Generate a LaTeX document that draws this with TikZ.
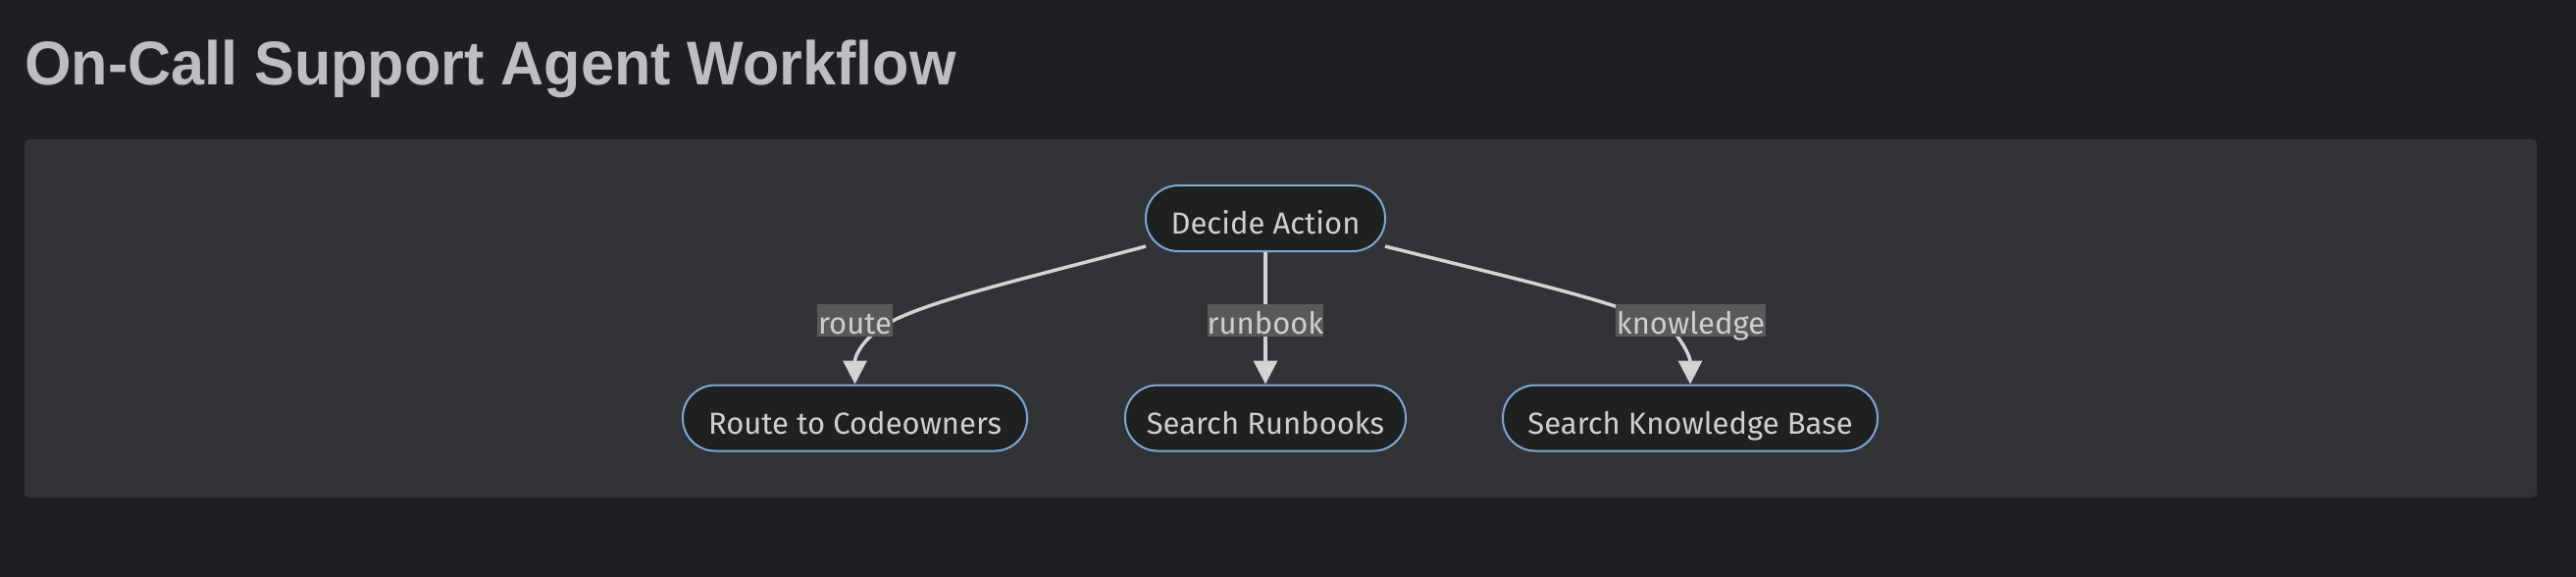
\documentclass[tikz,border=0pt]{standalone}
\usepackage{fontspec}
\usepackage{tikz}
\setmainfont{Fira Sans}
\newfontfamily\titlefont{Liberation Sans}
\usetikzlibrary{arrows.meta}
\usetikzlibrary{positioning}
\definecolor{pagebg}{HTML}{1E1F23}
\definecolor{panelbg}{HTML}{323337}
\definecolor{nodebg}{HTML}{1F2020}
\definecolor{nodeline}{HTML}{7FA6D6}
\definecolor{lblbg}{HTML}{595959}
\definecolor{flowline}{HTML}{D3D3D3}
\definecolor{txt}{HTML}{CFCFCF}
\definecolor{titletxt}{HTML}{BDBEC3}
\tikzset{actbox/.style = {draw = nodeline, line width = 2, fill = nodebg, text = txt,
    rounded corners = 33, minimum height = 67, inner sep = 0,
    text height = 32, text depth = 0,
    font = \fontsize{31}{38}\selectfont},
  edgelbl/.style = {fill = lblbg, text = txt, inner xsep = 0, inner ysep = 0,
    text height = 27, text depth = 0,
    minimum height = 33, font = \fontsize{31}{38}\selectfont},
  flow/.style = {draw = flowline, line width = 3.5,
    -{Triangle[width = 24, length = 24]}}}

\begin{document}
\begin{tikzpicture}[x = 1pt, y = -1pt]
    \fill[pagebg] (0, 0) rectangle (2626, 588);
    \useasboundingbox (0, 0) rectangle (2626, 588);
    \fill[panelbg, rounded corners = 4] (25, 142) rectangle (2586, 507);

    \node[anchor = base west, inner sep = 0, text = titletxt]
      (title) at (25, 87) {\titlefont\bfseries\fontsize{63}{70}\selectfont\scalebox{0.97}[1]{On-Call Support Agent Workflow}};

    \node[actbox, minimum width = 244] (decide) at (1290, 222.5) {Decide Action};
    \node[actbox, minimum width = 351] (route) at (871.5, 426) {Route to Codeowners};
    \node[actbox, minimum width = 286] (runbooks) at (1290, 426) {Search Runbooks};
    \node[actbox, minimum width = 382] (kbase) at (1723, 426) {Search Knowledge Base};

    \coordinate (decideL) at (1168, 251);
    \coordinate (decideR) at (1412, 251);

    \draw[flow] (decideL) .. controls (1030, 288) and (930, 310) .. (895, 336)
      .. controls (875, 352) and (871.5, 365) .. (route.north);
    \draw[flow] (decide.south) -- (runbooks.north);
    \draw[flow] (decideR) .. controls (1560, 288) and (1670, 312) .. (1706, 338)
      .. controls (1718, 352) and (1723, 365) .. (kbase.north);

    \node[edgelbl, minimum width = 77] (routelbl) at (871.5, 326.5) {route};
    \node[edgelbl, minimum width = 116] (runbooklbl) at (1290, 326.5) {runbook};
    \node[edgelbl, minimum width = 153] (kbaselbl) at (1723.5, 326.5) {knowledge};
  \end{tikzpicture}
\end{document}
